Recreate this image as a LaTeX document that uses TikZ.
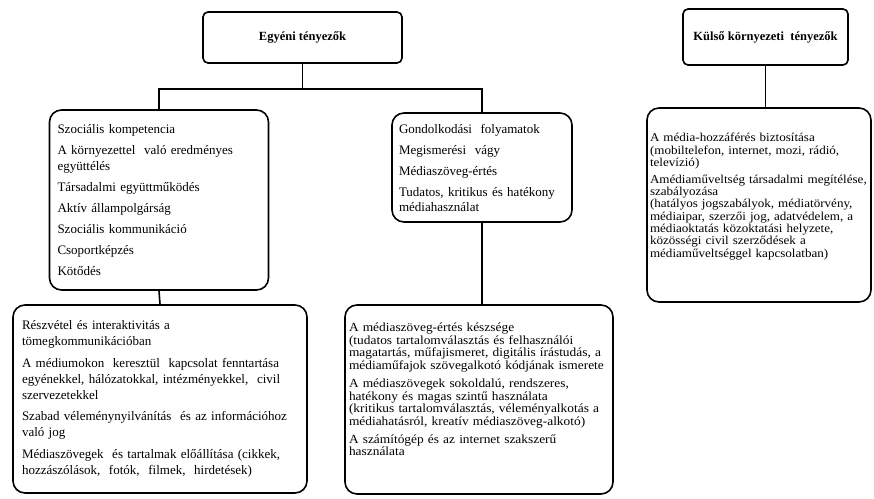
\documentclass[tikz,border=0pt]{standalone}
\usepackage{fontspec}
\setmainfont{Liberation Serif}
\newfontfamily\densefont{Liberation Serif}[FakeStretch=1.08]
\usetikzlibrary{positioning}

\begin{document}
\begin{tikzpicture}[
    x=1pt, y=-1pt,
    header/.style={draw, line width=1.6pt, rounded corners=5pt, font=\fontsize{12.5}{15}\selectfont\bfseries},
    itembox/.style={draw, line width=1.6pt, rounded corners=12pt, align=left, inner ysep=4pt,
        execute at begin node={\hyphenpenalty=10000}},
    raisetext/.style={execute at end node={\endgraf\vspace*{#1}}},
    link/.style={line width=1.6pt}
]
\useasboundingbox (0,0) rectangle (874,498);

% Headers
\node[header, minimum width=199pt, minimum height=51pt] (egyeni) at (302.5,37.5) {Egyéni tényezők};
\node[header, minimum width=165pt, minimum height=56pt] (kulso) at (765.5,37) {Külső környezeti\ \ tényezők};

% Individual factors
\node[itembox, minimum height=180pt, inner xsep=8pt, text width=203pt, font=\fontsize{13}{16}\selectfont] (szocialis) at (159,200) {Szociális kompetencia\\[5pt]
A környezettel\ \ való eredményes\\ együttélés\\[5pt]
Társadalmi együttműködés\\[5pt]
Aktív állampolgárság\\[5pt]
Szociális kommunikáció\\[5pt]
Csoportképzés\\[5pt]
Kötődés};
\node[itembox, minimum height=109pt, inner xsep=7pt, text width=166pt, font=\fontsize{13}{15}\selectfont] (gondolkodas) at (482,167.5) {Gondolkodási\ \ folyamatok\\[6pt]
Megismerési\ \ vágy\\[6pt]
Médiaszöveg-értés\\[6pt]
Tudatos, kritikus és hatékony\\ médiahasználat};
\node[itembox, minimum height=188pt, inner xsep=9pt, text width=276pt, font=\fontsize{13}{16}\selectfont] (reszvetel) at (160,399) {Részvétel és interaktivitás a\\ tömegkommunikációban\\[5.5pt]
A médiumokon\ \ keresztül\ \ kapcsolat fenntartása\\ egyénekkel, hálózatokkal, intézményekkel,\ \ civil\\ szervezetekkel\\[5.5pt]
Szabad véleménynyilvánítás\ \ és az információhoz\\ való jog\\[5.5pt]
Médiaszövegek\ \ és tartalmak előállítása (cikkek,\\ hozzászólások,\ \ fotók,\ \ filmek,\ \ hirdetések)};
\node[itembox, raisetext=20pt, minimum height=189pt, inner xsep=4pt, text width=260pt, font=\densefont\fontsize{12.4}{12.6}\selectfont] (keszseg) at (479,399.5) {A médiaszöveg-értés készsége\\ (tudatos tartalomválasztás és felhasználói\\ magatartás, műfajismeret, digitális írástudás, a\\ médiaműfajok szövegalkotó kódjának ismerete\\[5.5pt]
A médiaszövegek sokoldalú, rendszeres,\\ hatékony és magas szintű használata\\ (kritikus tartalomválasztás, véleményalkotás a\\ médiahatásról, kreatív médiaszöveg-alkotó)\\[5.5pt]
A számítógép és az internet szakszerű\\ használata};

% External factors
\node[itembox, raisetext=17pt, minimum height=194pt, inner xsep=3pt, text width=218pt, font=\densefont\fontsize{12.1}{12.3}\selectfont] (mediahozzaferes) at (759,205) {A média-hozzáférés biztosítása\\ (mobiltelefon, internet, mozi, rádió,\\ televízió)\\[4.7pt]
Amédiaműveltség társadalmi megítélése,\\ szabályozása\\ (hatályos jogszabályok, médiatörvény,\\ médiaipar, szerzői jog, adatvédelem, a\\ médiaoktatás közoktatási helyzete,\\ közösségi civil szerződések a\\ médiaműveltséggel kapcsolatban)};

% Connectors
\draw[link] (egyeni.south) -- ++(0,25) coordinate (split);
\draw[link] (szocialis.north) |- (split) -| (gondolkodas.north);
\draw[link] (szocialis.south) -- (reszvetel.north);
\draw[link] (gondolkodas.south) -- (gondolkodas.south |- keszseg.north);
\draw[link] (kulso.south) -- (kulso.south |- mediahozzaferes.north);

\end{tikzpicture}
\end{document}
